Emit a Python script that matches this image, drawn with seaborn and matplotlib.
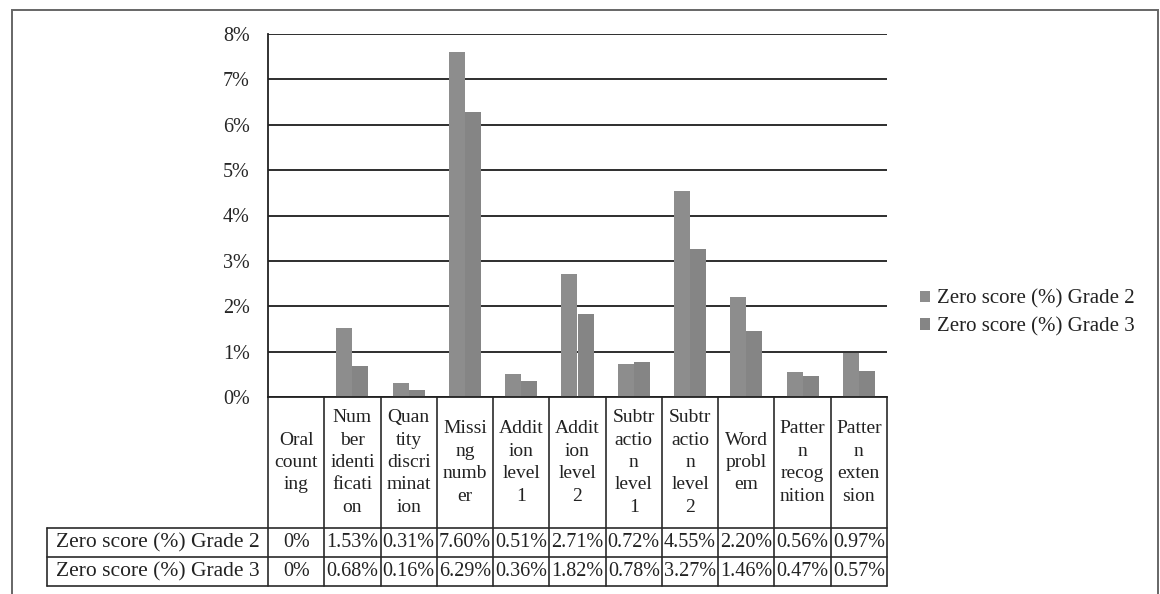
import matplotlib
matplotlib.use("Agg")
import matplotlib.pyplot as plt
import matplotlib.transforms as mtransforms
from matplotlib.patches import Patch, Rectangle
from matplotlib.lines import Line2D
import numpy as np
import pandas as pd
import seaborn as sns

# ---- data -------------------------------------------------------------
categories = [
    "Oral counting", "Number identification", "Quantity discrimination",
    "Missing number", "Addition level 1", "Addition level 2",
    "Subtraction level 1", "Subtraction level 2", "Word problem",
    "Pattern recognition", "Pattern extension",
]
header_labels = [
    "Oral\ncount\ning", "Num\nber\nidenti\nficati\non", "Quan\ntity\ndiscri\nminat\nion",
    "Missi\nng\nnumb\ner", "Addit\nion\nlevel\n1", "Addit\nion\nlevel\n2",
    "Subtr\nactio\nn\nlevel\n1", "Subtr\nactio\nn\nlevel\n2", "Word\nprobl\nem",
    "Patter\nn\nrecog\nnition", "Patter\nn\nexten\nsion",
]
series_names = ["Zero score (%) Grade 2", "Zero score (%) Grade 3"]
grade2 = [0.00, 1.53, 0.31, 7.60, 0.51, 2.71, 0.72, 4.55, 2.20, 0.56, 0.97]
grade3 = [0.00, 0.68, 0.16, 6.29, 0.36, 1.82, 0.78, 3.27, 1.46, 0.47, 0.57]
y_ticks = [0, 1, 2, 3, 4, 5, 6, 7, 8]

df = pd.DataFrame({
    "category": categories * 2,
    "series": [series_names[0]] * len(categories) + [series_names[1]] * len(categories),
    "value": grade2 + grade3,
})

# ---- style ------------------------------------------------------------
sns.set_style("white")
plt.rcParams["font.family"] = ["Liberation Serif", "DejaVu Serif"]
plt.rcParams["text.color"] = "#222222"

W, H = 1160, 594
fig = plt.figure(figsize=(W / 100, H / 100), dpi=100)
fig.patch.set_facecolor("white")

def px(x, y):
    """Pixel position (from top-left) to figure fraction."""
    return x / W, 1 - y / H

# outer chart frame
fx0, fy0 = px(12, 10)
fx1, _ = px(1158, 10)
fig.add_artist(Rectangle((fx0, -0.05), fx1 - fx0, fy0 + 0.05, transform=fig.transFigure,
                         fill=False, edgecolor="#666666", lw=1.4))

ax_l, ax_r, ax_t, ax_b = 268, 887, 34, 397
ax = fig.add_axes([ax_l / W, 1 - ax_b / H, (ax_r - ax_l) / W, (ax_b - ax_t) / H])

palette = ["#8d8d8d", "#858585"]
sns.barplot(data=df, x="category", y="value", hue="series", order=categories,
            hue_order=series_names, palette=palette, width=0.57, saturation=1,
            ax=ax, legend=False, linewidth=0)

ax.set_xlim(-0.5, len(categories) - 0.5)
ax.set_ylim(0, 8)
ax.set_yticks(y_ticks)
ax.set_yticklabels([f"{t}%" for t in y_ticks], fontsize=14.5)
ax.set_xticks([])
ax.set_xlabel("")
ax.set_ylabel("")
ax.yaxis.grid(True, color="#1e1e1e", lw=1.3)
ax.set_axisbelow(True)
ax.tick_params(axis="y", direction="out", length=5, width=1.2, pad=8, color="#222222")
for s in ["top", "right"]:
    ax.spines[s].set_visible(False)
for s in ["left", "bottom"]:
    ax.spines[s].set_color("#222222")
    ax.spines[s].set_linewidth(1.3)

# ---- data table below the bars ---------------------------------------
trans = mtransforms.blended_transform_factory(ax.transData, ax.transAxes)
ax_h = ax_b - ax_t
def ya(ypix):
    return -(ypix - ax_b) / ax_h

y_head = ya(528)
y_row2 = ya(557)
y_row3 = ya(586)
x_label_left = (47 - ax_l) / (ax_r - ax_l)
line_kw = dict(color="#2a2a2a", lw=1.2, clip_on=False)

n = len(categories)
# column separators
for i in range(n + 1):
    ax.add_line(Line2D([i - 0.5, i - 0.5], [0, y_row3], transform=trans, **line_kw))
# row separators (extend across the row-label column)
for yy in [y_head, y_row2, y_row3]:
    ax.add_line(Line2D([x_label_left, 1], [yy, yy], transform=ax.transAxes, **line_kw))
ax.add_line(Line2D([x_label_left, x_label_left], [y_head, y_row3],
                   transform=ax.transAxes, **line_kw))

# header text
for i, lab in enumerate(header_labels):
    ax.text(i, (0 + y_head) / 2, lab, transform=trans, ha="center", va="center",
            fontsize=14, linespacing=1.42, clip_on=False)

def fmt(v):
    return "0%" if v == 0 else f"{v:.2f}%"

for vals, y0, y1, name in [(grade2, y_head, y_row2, series_names[0]),
                           (grade3, y_row2, y_row3, series_names[1])]:
    yc = (y0 + y1) / 2
    ax.text(x_label_left / 2, yc, name, transform=ax.transAxes, ha="center",
            va="center", fontsize=15.5)
    for i, v in enumerate(vals):
        ax.text(i, yc, fmt(v), transform=trans, ha="center", va="center",
                fontsize=14.5, clip_on=False)

# ---- legend -----------------------------------------------------------
handles = [Patch(facecolor=c, edgecolor="none", label=s) for c, s in zip(palette, series_names)]
lx, ly = px(920, 313)
fig.legend(handles=handles, loc="center left", bbox_to_anchor=(lx, ly), frameon=False,
           fontsize=15, handlelength=0.5, handleheight=0.5, handletextpad=0.3,
           labelspacing=0.4, borderpad=0, borderaxespad=0)

fig.savefig("out.png", dpi=100, facecolor="white")
